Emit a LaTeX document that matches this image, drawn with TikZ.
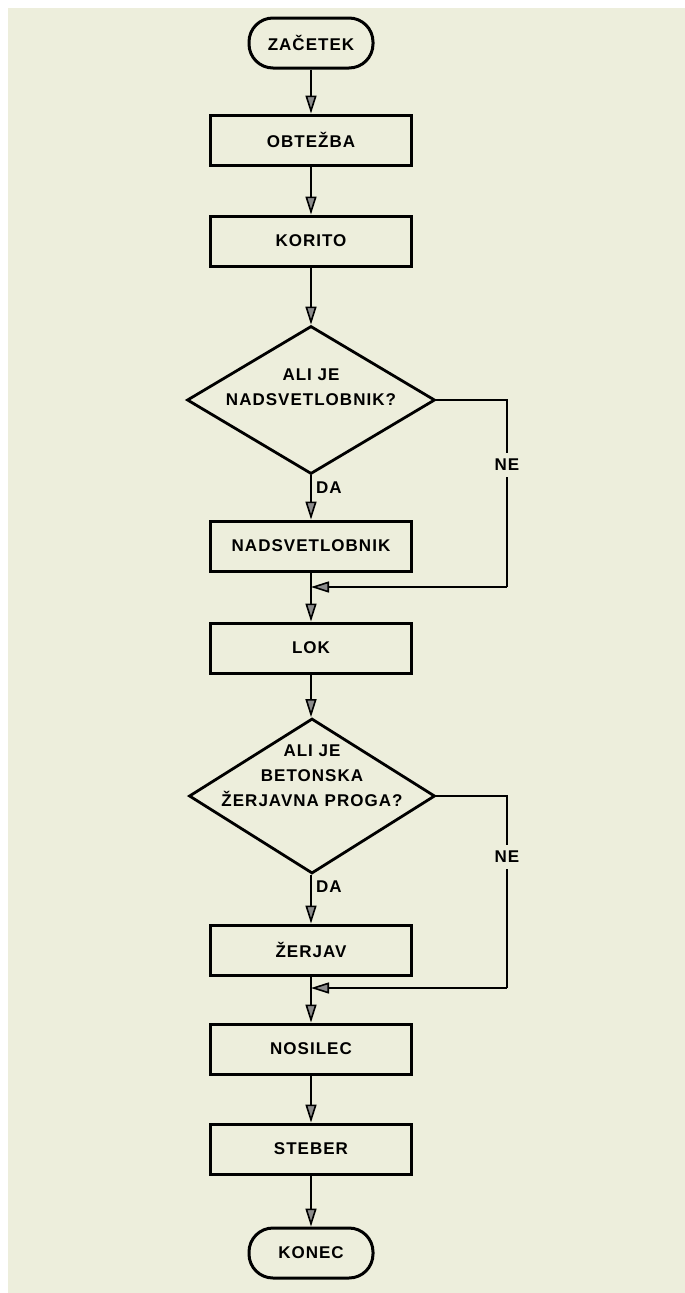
\documentclass[tikz,border=0pt]{standalone}
\usepackage{fontspec}
\setmainfont{Liberation Sans}[LetterSpace=6]
\usetikzlibrary{arrows.meta,shapes.geometric}
\definecolor{paper}{RGB}{237,238,220}
\newcommand\lbl{\fontsize{17}{25}\selectfont\bfseries}
\begin{document}
\begin{tikzpicture}[x=1pt,y=-1pt,
  proc/.style={draw, line width=3pt, minimum width=201pt, minimum height=50pt, inner sep=0pt, font=\lbl},
  term/.style={draw, line width=3pt, rounded corners=24pt, minimum width=124pt, minimum height=50pt, inner sep=0pt, font=\lbl},
  dec/.style={draw, diamond, line width=2.8pt, inner sep=0pt},
  qtext/.style={align=center, font=\lbl, inner sep=0pt},
  tag/.style={font=\lbl, inner sep=2pt},
  link/.style={line width=2.6pt},
  arr/.style={link, -{Triangle[length=18pt,width=11pt,fill=black!45,line width=1.6pt]}}]
\useasboundingbox (0,0) rectangle (685,1293);
\fill[white] (0,0) rectangle (685,1293);
\fill[paper] (8,8) rectangle (685,1293);

\node[term] (start) at (311,43) {ZAČETEK};
\node[proc] (b1) at (311,140) {OBTEŽBA};
\node[proc] (b2) at (311,241) {KORITO};
\node[dec, minimum width=248pt, minimum height=148pt] (d1) at (311,400) {};
\node[qtext] (q1) at (311,387) {ALI JE\\NADSVETLOBNIK?};
\node[proc] (b3) at (311,546) {NADSVETLOBNIK};
\coordinate (j1) at (311,587);
\coordinate (c1) at (507,587);
\node[proc] (b4) at (311,648) {LOK};
\node[dec, minimum width=246pt, minimum height=155pt] (d2) at (312,796) {};
\node[qtext] (q2) at (312,776) {ALI JE\\BETONSKA\\ŽERJAVNA PROGA?};
\node[proc] (b5) at (311,950) {ŽERJAV};
\coordinate (j2) at (311,988);
\coordinate (c2) at (507,988);
\node[proc] (b6) at (311,1049) {NOSILEC};
\node[proc] (b7) at (311,1149) {STEBER};
\node[term] (end) at (311,1253) {KONEC};

\draw[arr] (start) -- (b1);
\draw[arr] (b1) -- (b2);
\draw[arr] (b2) -- (d1);
\draw[arr] (d1.south) -- (b3);
\draw[arr] (b3) -- (b4);
\draw[link] (d1.east) -| (c1);
\draw[arr] (c1) -- (j1);
\draw[arr] (b4.south) -- (b4.south |- d2.north);
\draw[arr] (b4.south |- d2.south) -- (b5);
\draw[link] (d2.east) -| (c2);
\draw[arr] (c2) -- (j2);
\draw[arr] (b5) -- (b6);
\draw[arr] (b6) -- (b7);
\draw[arr] (b7) -- (end);

\node[tag, anchor=west] (da1) at (314,488) {DA};
\node[tag, fill=paper, inner ysep=6pt] (ne1) at (507,465) {NE};
\node[tag, anchor=west] (da2) at (314,887) {DA};
\node[tag, fill=paper, inner ysep=6pt] (ne2) at (507,857) {NE};
\end{tikzpicture}
\end{document}
